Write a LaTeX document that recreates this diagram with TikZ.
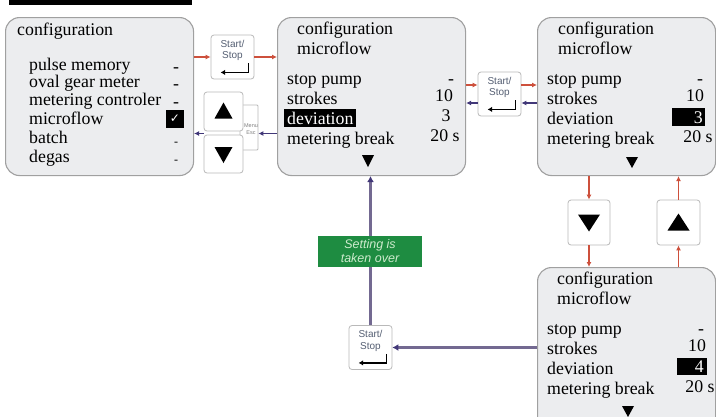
\documentclass[tikz,border=0pt]{standalone}
\usepackage{fontspec}
\setmainfont{Liberation Serif}
\newfontfamily\sansf{Liberation Sans}
\newfontfamily\djv{DejaVu Sans}
\usetikzlibrary{arrows.meta,calc}
\definecolor{scr}{RGB}{236,237,239}
\definecolor{scrline}{RGB}{160,160,160}
\definecolor{rarr}{RGB}{205,80,60}
\definecolor{barr}{RGB}{65,55,120}
\definecolor{parr}{RGB}{115,105,145}
\definecolor{grn}{RGB}{30,140,65}
\definecolor{grntxt}{RGB}{205,235,205}
\definecolor{sstxt}{RGB}{85,95,115}
\newcommand\scrf{\fontsize{17.8}{20}\selectfont}
\tikzset{
  screen/.style={draw=scrline, fill=scr, line width=1.1pt, rounded corners=14pt, anchor=north west, inner sep=0},
  btn/.style={draw=gray!55, fill=white, line width=0.8pt, rounded corners=3pt, inner sep=0},
  lbl/.style={anchor=base west, inner sep=0, font=\scrf},
  val/.style={anchor=base, inner sep=0, font=\scrf},
  hl/.style={fill=black, text=white},
  ra/.style={draw=rarr, line width=1.1pt, -{Latex[length=5pt,width=5pt]}},
  ba/.style={draw=barr, line width=1.1pt, -{Latex[length=5pt,width=5pt]}},
  pa/.style={draw=parr, line width=2.3pt, -{Latex[length=6pt,width=7pt,color=barr]}},
  sst/.style={font=\sansf\fontsize{10}{11.5}\selectfont, text=sstxt, align=center, inner sep=0},
  enter/.style={draw=black, line width=1.6pt, -{Latex[length=4.5pt,width=5.5pt]}},
}
\newcommand\mkStartStop[3]{%
  \node[btn, minimum width=43pt, minimum height=44pt] (#1) at (#2,#3) {};
  \node[sst] (#1t) at ([yshift=-16pt]#1.north) {Start/\\Stop};
  \coordinate (#1a) at ([xshift=-6pt,yshift=16pt]#1.south east);
  \coordinate (#1b) at ([xshift=10pt,yshift=7pt]#1.south west);
  \draw[enter] (#1a) |- (#1b);
}
\begin{document}
\begin{tikzpicture}[x=1pt,y=-1pt]
\useasboundingbox (0,0) rectangle (716,416);
\clip (0,0) rectangle (716,416);
\fill[white] (0,0) rectangle (716,416);
% title bar
\fill[black] (9,0) rectangle (192,4.5);

% screens
\node[screen, minimum width=188pt, minimum height=158pt] (b1) at (5,17) {};
\node[screen, minimum width=188pt, minimum height=158pt] (b2) at (277,17) {};
\node[screen, minimum width=178pt, minimum height=158pt] (b3) at (537,17) {};
\node[screen, minimum width=178pt, minimum height=170pt] (b4) at (537,267) {};

% screen 1
\node[lbl] (t1a) at (17,35) {configuration};
\node[lbl] (t1b) at (29,70) {pulse memory};
\node[lbl] (t1c) at (29,87) {oval gear meter};
\node[lbl] (t1d) at (29,105) {metering controler};
\node[lbl] (t1e) at (29,124) {microflow};
\node[lbl] (t1f) at (29,143) {batch};
\node[lbl] (t1g) at (29,162) {degas};
\node[val] (v1b) at (176,72) {-};
\node[val] (v1c) at (176,89) {-};
\node[val] (v1d) at (176,107) {-};
\node[val, font=\fontsize{12}{14}\selectfont] (v1f) at (176,145) {-};
\node[val, font=\fontsize{12}{14}\selectfont] (v1g) at (176,163) {-};
\node[hl, minimum width=18pt, minimum height=18pt, inner sep=0, font=\djv\fontsize{12}{12}\selectfont] (chk) at (175,119) {✓};

% screen 2
\node[lbl] (t2a) at (297,34) {configuration};
\node[lbl] (t2b) at (297,54) {microflow};
\node[lbl] (t2c) at (287,84) {stop pump};
\node[lbl] (t2d) at (287,104) {strokes};
\node[lbl, hl, inner xsep=3pt, inner ysep=2.5pt] (t2e) at (284,124) {deviation};
\node[lbl] (t2f) at (287,144) {metering break};
\node[val] (v2c) at (451,84) {-};
\node[val] (v2d) at (444,101) {10};
\node[val] (v2e) at (446,121) {3};
\node[val] (v2f) at (445,141) {20 s};
\fill[black] (362,155) -- (374,155) -- (368,167) -- cycle;

% screen 3
\node[lbl] (t3a) at (558,34) {configuration};
\node[lbl] (t3b) at (558,54) {microflow};
\node[lbl] (t3c) at (547,84) {stop pump};
\node[lbl] (t3d) at (547,104) {strokes};
\node[lbl] (t3e) at (547,124) {deviation};
\node[lbl] (t3f) at (547,144) {metering break};
\node[val] (v3c) at (700,84) {-};
\node[val] (v3d) at (695,101) {10};
\node[hl, minimum width=33pt, minimum height=18pt, inner sep=0] (h3) at (688.5,117) {};
\node[val, anchor=base east, text=white] (v3e) at (703,123) {3};
\node[val] (v3f) at (698,142) {20 s};
\fill[black] (626,157) -- (638,157) -- (632,168) -- cycle;

% screen 4
\node[lbl] (t4a) at (557,284) {configuration};
\node[lbl] (t4b) at (557,304) {microflow};
\node[lbl] (t4c) at (547,334) {stop pump};
\node[lbl] (t4d) at (547,354) {strokes};
\node[lbl] (t4e) at (547,374) {deviation};
\node[lbl] (t4f) at (547,394) {metering break};
\node[val] (v4c) at (701,334) {-};
\node[val] (v4d) at (697,351) {10};
\node[hl, minimum width=30pt, minimum height=17pt, inner sep=0] (h4) at (692,366.5) {};
\node[val, anchor=base east, text=white] (v4e) at (704,372) {4};
\node[val] (v4f) at (700,392) {20 s};
\fill[black] (622,406) -- (634,406) -- (628,417) -- cycle;

% menu / up / down keys
\node[btn, rounded corners=1pt, minimum width=18pt, minimum height=45pt] (me) at (249,127.5) {};
\node[font=\sansf\fontsize{5.5}{6.5}\selectfont, text=gray, align=center, inner sep=0] (met) at (251,129) {Menu\\Esc};
\node[btn, minimum width=39pt, minimum height=39pt] (up1) at (223.5,111.5) {};
\node[btn, minimum width=39pt, minimum height=38pt] (dn1) at (223.5,154) {};
\fill[black] ($(up1.center)+(-9,7)$) -- ++(18,0) -- ++(-9,-16) -- cycle;
\fill[black] ($(dn1.center)+(-9,-7)$) -- ++(18,0) -- ++(-9,16) -- cycle;

\node[btn, minimum width=42pt, minimum height=45pt] (dn2) at (589,222.5) {};
\node[btn, minimum width=43pt, minimum height=45pt] (up2) at (678.5,222.5) {};
\fill[black] ($(dn2.center)+(-11,-8)$) -- ++(22,0) -- ++(-11,17) -- cycle;
\fill[black] ($(up2.center)+(-11,8)$) -- ++(22,0) -- ++(-11,-17) -- cycle;

% start/stop keys
\mkStartStop{ss1}{232.5}{57}
\mkStartStop{ss2}{499.5}{94}
\mkStartStop{ss3}{370.5}{347.5}

% connectors
\coordinate (gapL) at (223.5,133.5);
\coordinate (r2) at (499.5,85);
\coordinate (l2) at (499.5,103);
\draw[ra] (b1.east |- ss1.west) -- (ss1.west);
\draw[ra] (ss1.east) -- (b2.west |- ss1.east);
\draw[ba] (b2.west |- gapL) -- (me.east |- gapL);
\draw[ba] (up1.west |- gapL) -- (b1.east |- gapL);
\draw[ra] (b2.east |- r2) -- (ss2.west |- r2);
\draw[ra] (ss2.east |- r2) -- (b3.west |- r2);
\draw[ba] (b3.west |- l2) -- (ss2.east |- l2);
\draw[ba] (ss2.west |- l2) -- (b2.east |- l2);
\draw[ra] (b3.south -| dn2.north) -- (dn2.north);
\draw[ra] (dn2.south) -- (b4.north -| dn2.south);
\draw[ra] (b4.north -| up2.south) -- (up2.south);
\draw[ra] (up2.north) -- (b3.south -| up2.north);
\draw[pa] (b4.west |- ss3.east) -- (ss3.east);
\draw[pa] (ss3.north) -- (b2.south -| ss3.north);

% green message
\node[fill=grn, minimum width=104pt, minimum height=31pt, inner sep=0, text=grntxt, align=center,
      font=\sansf\itshape\fontsize{12.5}{13.5}\selectfont] (msg) at (370,251) {Setting is\\taken over};
\end{tikzpicture}
\end{document}
